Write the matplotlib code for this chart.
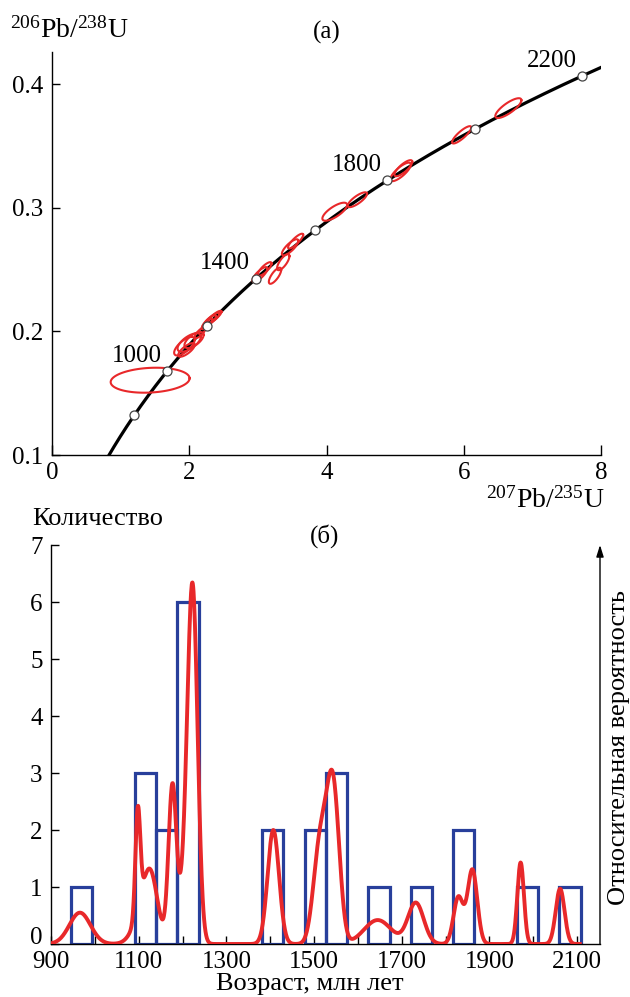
import numpy as np
import matplotlib
matplotlib.use("Agg")
import matplotlib.pyplot as plt

plt.rcParams['font.family'] = ['Liberation Serif', 'DejaVu Serif']
plt.rcParams['mathtext.fontset'] = 'custom'
plt.rcParams['mathtext.rm'] = 'Liberation Serif'
plt.rcParams['mathtext.it'] = 'Liberation Serif'

# --- (a) concordia: U-Pb analyses (ratio, half-extent, rho) ---
r207_235 = [1.43, 1.93, 2.00, 2.07, 1.96, 2.16, 2.29, 2.33, 2.37, 2.26,
            3.03, 3.10, 3.25, 3.37, 3.47, 3.55, 4.12, 4.45, 5.08, 5.12, 5.97, 6.65]
s207_235 = [0.575, 0.15, 0.17, 0.14, 0.12, 0.08, 0.10, 0.11, 0.10, 0.08,
            0.11, 0.10, 0.09, 0.09, 0.12, 0.11, 0.18, 0.14, 0.15, 0.13, 0.14, 0.19]
r206_238 = [0.1605, 0.1880, 0.1910, 0.1930, 0.1850, 0.1990, 0.2080, 0.2100, 0.2118, 0.2060,
            0.2460, 0.2505, 0.2450, 0.2560, 0.2680, 0.2730, 0.2968, 0.3065, 0.3290, 0.3320, 0.3590, 0.3806]
s206_238 = [0.0101, 0.0075, 0.0075, 0.0065, 0.0055, 0.0045, 0.0050, 0.0050, 0.0048, 0.0042,
            0.0060, 0.0055, 0.0065, 0.0065, 0.0065, 0.0060, 0.0073, 0.0060, 0.0075, 0.0065, 0.0070, 0.0080]
rho = [0.15, 0.70, 0.65, 0.65, 0.75, 0.80, 0.85, 0.85, 0.85, 0.85,
       0.80, 0.80, 0.75, 0.75, 0.80, 0.85, 0.75, 0.80, 0.80, 0.80, 0.85, 0.80]

marker_ages = [800, 1000, 1200, 1400, 1600, 1800, 2000, 2200]
label_ages = [1000, 1400, 1800, 2200]

# decay constants, 1/yr
L238 = 1.55125e-10
L235 = 9.8485e-10

# --- (b) histogram + probability density ---
bin_start = 946
bin_width = 48.4
counts = [1, 0, 0, 3, 2, 6, 0, 0, 0, 2, 0, 2, 3, 0, 1, 0, 1, 0, 2, 0, 0, 1, 0, 1]

# gaussian components of the probability curve: age, sigma, height
pdp_age = [966, 1098, 1113, 1128, 1177, 1214, 1224, 1407,
           1506, 1519, 1535, 1542, 1552, 1645, 1732, 1829, 1861, 1971, 2061]
pdp_sigma = [24, 5.5, 22, 16, 9, 14, 11, 13,
             13, 12, 12, 12, 12, 31, 18, 11, 11, 7.5, 10]
pdp_height = [0.55, 1.8, 0.60, 0.82, 2.75, 1.85, 4.85, 2.0,
              0.95, 1.05, 1.12, 1.12, 1.1, 0.42, 0.72, 0.82, 1.3, 1.43, 0.97]

RED = '#e8282a'
BLUE = '#283f9b'
FS = 18
LFS = 19

fig = plt.figure(figsize=(6.3, 9.97), dpi=100)

# ---------------- (a) ----------------
ax1 = fig.add_axes([52/630, 1-455/997, (601-52)/630, (455-52)/997])
t = np.linspace(500, 2400, 400) * 1e6
ax1.plot(np.exp(L235*t) - 1, np.exp(L238*t) - 1, color='black', lw=2.3, zorder=2)

th = np.linspace(0, 2*np.pi, 120)
for i in range(len(r207_235)):
    ex = r207_235[i] + s207_235[i]*np.cos(th)
    ey = r206_238[i] + s206_238[i]*(rho[i]*np.cos(th) + np.sqrt(1-rho[i]**2)*np.sin(th))
    ax1.plot(ex, ey, color=RED, lw=1.5, zorder=3)

ma = np.array(marker_ages) * 1e6
ax1.plot(np.exp(L235*ma) - 1, np.exp(L238*ma) - 1, 'o', ms=6.5, mfc='white', mec='#444444',
         mew=0.9, zorder=4, clip_on=False)
for a in label_ages:
    ta = a * 1e6
    ax1.annotate(str(a), (np.exp(L235*ta) - 1, np.exp(L238*ta) - 1), xytext=(-22, 11),
                 textcoords='offset points', ha='center', va='center', fontsize=FS)

ax1.set_xlim(0, 8)
ax1.set_ylim(0.1, 0.426)
ax1.set_xticks([0, 2, 4, 6, 8])
ax1.set_yticks([0.1, 0.2, 0.3, 0.4])
ax1.set_yticklabels(['0.1', '0.2', '0.3', '0.4'])
for s in ['top', 'right']:
    ax1.spines[s].set_visible(False)
for s in ['left', 'bottom']:
    ax1.spines[s].set_linewidth(1.0)
ax1.tick_params(axis='x', direction='in', length=7, width=1, labelsize=FS, pad=5)
ax1.tick_params(axis='y', direction='in', length=6, width=1, labelsize=FS, pad=6)

fig.text(10/630, 1-30/997, r'$^{206}$Pb/$^{238}$U', ha='left', va='center', fontsize=LFS+1)
fig.text(327/630, 1-32/997, '(а)', ha='center', va='center', fontsize=FS)
fig.text(605/630, 1-500/997, r'$^{207}$Pb/$^{235}$U', ha='right', va='center', fontsize=LFS+1)

# ---------------- (b) ----------------
ax2 = fig.add_axes([51/630, 1-944/997, (600-51)/630, (944-545)/997])
edges = bin_start + bin_width*np.arange(len(counts))
for e, c in zip(edges, counts):
    if c > 0:
        ax2.bar(e, c, width=bin_width, align='edge', fill=False, edgecolor=BLUE, lw=2.3, zorder=2)

ages = np.linspace(900, 2106, 1500)
dens = np.zeros_like(ages)
for a, s, h in zip(pdp_age, pdp_sigma, pdp_height):
    dens += h*np.exp(-(ages - a)**2/(2*s*s))
ax2.plot(ages, dens, color=RED, lw=2.8, zorder=3)

ax2.set_xlim(900, 2152)
ax2.set_ylim(0, 7)
ax2.set_xticks(np.arange(900, 2101, 200))
ax2.set_xticks(np.arange(1000, 2001, 200), minor=True)
ax2.set_yticks(range(8))
for s in ['top', 'right']:
    ax2.spines[s].set_visible(False)
for s in ['left', 'bottom']:
    ax2.spines[s].set_linewidth(1.0)
ax2.tick_params(axis='x', which='both', direction='in', length=6, width=1, labelsize=FS, pad=5)
ax2.tick_params(axis='y', direction='in', length=6, width=1, labelsize=FS, pad=6)
# the "0" sits on its tick, as in the original
ax2.get_yticklabels()[0].set_va('baseline')

ax2.annotate('', xy=(1.0, 1.0), xytext=(1.0, 0.0), xycoords='axes fraction',
             arrowprops=dict(arrowstyle='-|>,head_length=0.7,head_width=0.22', color='black', lw=1.0,
                             shrinkA=0, shrinkB=0))

fig.text(32/630, 1-519/997, 'Количество', ha='left', va='center', fontsize=LFS)
fig.text(325/630, 1-536/997, '(б)', ha='center', va='center', fontsize=FS)
fig.text(310/630, 1-984/997, 'Возраст, млн лет', ha='center', va='center', fontsize=LFS)
fig.text(619/630, 1-748/997, 'Относительная вероятность', ha='center', va='center',
         rotation=90, fontsize=LFS)

fig.savefig('out.png', dpi=100)
